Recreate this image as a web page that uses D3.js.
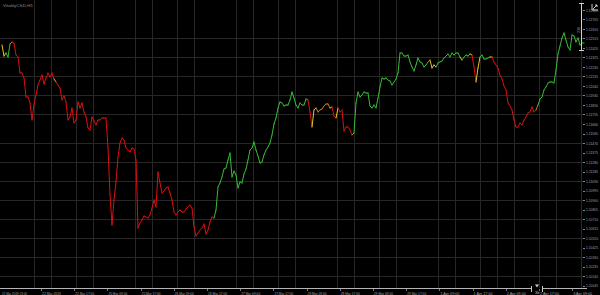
<!DOCTYPE html>
<html>
<head>
<meta charset="utf-8">
<script src="https://cdn.jsdelivr.net/npm/d3@7"></script>
<style>
  html, body { margin: 0; padding: 0; background: #000; overflow: hidden; }
</style>
</head>
<body>
<div id="chart"></div>
<script>
// close price per bar
const closePrices = [
  1.1245, 1.1234, 1.1237, 1.1233, 1.1246, 1.1248, 1.1247, 1.1235, 1.1233, 1.1217,
  1.1217, 1.1212, 1.1193, 1.1193, 1.1187, 1.1170, 1.1186, 1.1195, 1.1205, 1.1210,
  1.1215, 1.1206, 1.1212, 1.1217, 1.1213, 1.1217, 1.1211, 1.1208, 1.1205, 1.1202,
  1.1190, 1.1194, 1.1188, 1.1170, 1.1173, 1.1182, 1.1167, 1.1170, 1.1188, 1.1182,
  1.1187, 1.1178, 1.1173, 1.1162, 1.1160, 1.1173, 1.1169, 1.1165, 1.1170, 1.1170,
  1.1172, 1.1172, 1.1172, 1.1143, 1.1095, 1.1065, 1.1090, 1.1108, 1.1133, 1.1147,
  1.1152, 1.1150, 1.1142, 1.1140, 1.1138, 1.1142, 1.1141, 1.1130, 1.1062, 1.1067,
  1.1070, 1.1074, 1.1073, 1.1072,
  1.1075, 1.1082, 1.1090, 1.1083, 1.1118, 1.1107, 1.1097, 1.1099, 1.1102, 1.1103,
  1.1097, 1.1090, 1.1078, 1.1075, 1.1078, 1.1080, 1.1078, 1.1078, 1.1081, 1.1083,
  1.1085, 1.1082, 1.1063, 1.1054, 1.1057, 1.1060, 1.1062, 1.1066, 1.1056, 1.1060,
  1.1068, 1.1073, 1.1072, 1.1080, 1.1103, 1.1107, 1.1113, 1.1121, 1.1122, 1.1130,
  1.1137, 1.1113, 1.1119, 1.1115, 1.1102, 1.1108, 1.1107, 1.1116, 1.1121, 1.1130,
  1.1140, 1.1142, 1.1148, 1.1140, 1.1134, 1.1127, 1.1128, 1.1135, 1.1140, 1.1143,
  1.1147, 1.1155, 1.1166, 1.1172, 1.1182, 1.1188, 1.1187, 1.1184, 1.1185, 1.1185,
  1.1190, 1.1198, 1.1192, 1.1185, 1.1182,
  1.1187, 1.1185, 1.1185, 1.1191, 1.1190, 1.1178, 1.1163, 1.1180, 1.1182, 1.1178,
  1.1180, 1.1181, 1.1184, 1.1186, 1.1186, 1.1182, 1.1183, 1.1174, 1.1172, 1.1182,
  1.1178, 1.1180, 1.1159, 1.1163, 1.1163, 1.1160, 1.1155, 1.1157, 1.1187, 1.1198,
  1.1193, 1.1195, 1.1198, 1.1197, 1.1197, 1.1184, 1.1182, 1.1185, 1.1182, 1.1192,
  1.1203, 1.1212, 1.1211, 1.1212, 1.1210, 1.1209, 1.1205, 1.1208, 1.1211, 1.1217,
  1.1237, 1.1237, 1.1234, 1.1234, 1.1235, 1.1228, 1.1223, 1.1219, 1.1225, 1.1232,
  1.1228, 1.1227, 1.1223, 1.1225, 1.1228, 1.1230, 1.1222, 1.1225, 1.1223, 1.1227,
  1.1228, 1.1229, 1.1232, 1.1234, 1.1236,
  1.1233, 1.1237, 1.1235, 1.1237, 1.1237, 1.1233, 1.1230, 1.1233, 1.1235, 1.1234,
  1.1236, 1.1235, 1.1223, 1.1208, 1.1222, 1.1233, 1.1235, 1.1231, 1.1231, 1.1232,
  1.1233, 1.1233, 1.1228, 1.1225, 1.1222, 1.1215, 1.1211, 1.1204, 1.1200, 1.1187,
  1.1184, 1.1180, 1.1170, 1.1163, 1.1163, 1.1167, 1.1165, 1.1170, 1.1173, 1.1177,
  1.1178, 1.1183, 1.1178, 1.1180, 1.1185, 1.1191, 1.1193, 1.1200, 1.1203, 1.1207,
  1.1208, 1.1208, 1.1207, 1.1220, 1.1236, 1.1244, 1.1252, 1.1257, 1.1250, 1.1243,
  1.1240, 1.1255, 1.1254, 1.1248, 1.1252, 1.1245, 1.1247, 1.1247
];

// trend state runs: g = up, r = down, y = flat, o = turning
const trendRuns = [
  ["g", 1], ["y", 2], ["g", 3], ["r", 21], ["y", 1], ["r", 46],
  ["r", 33], ["g", 42],
  ["g", 5], ["r", 2], ["y", 2], ["o", 7], ["y", 1], ["r", 2], ["y", 1], ["r", 7], ["o", 1], ["g", 38], ["y", 3], ["g", 6],
  ["g", 6], ["y", 1], ["g", 4], ["y", 1], ["r", 2], ["y", 2], ["g", 5], ["y", 1], ["r", 22], ["o", 1], ["g", 23]
];

const priceLabels = [
  "1.12800", "1.12705", "1.12610", "1.12515", "1.12420", "1.12325", "1.12230", "1.12135", "1.12040", "1.11945",
  "1.11850", "1.11755", "1.11660", "1.11565", "1.11470", "1.11375", "1.11280", "1.11185", "1.11090", "1.10995",
  "1.10900", "1.10805", "1.10710", "1.10615", "1.10520", "1.10425", "1.10330", "1.10235", "1.10140", "1.10045"
];
// which price labels carry a visible grid line
const priceGridIdx = [3, 5, 7, 9, 11, 14, 16, 18, 20, 22, 24, 26, 28];

const timeLabels = [
  "21 Mar 2019 13:00", "22 Mar 2019", "22 Mar 17:00", "25 Mar 09:00", "25 Mar 17:00", "26 Mar 09:00",
  "26 Mar 17:00", "27 Mar 09:00", "27 Mar 17:00", "28 Mar 09:00", "28 Mar 17:00", "29 Mar 09:00",
  "29 Mar 17:00", "1 Apr 09:00", "1 Apr 17:00", "2 Apr 09:00", "2 Apr 17:00", "3 Apr 09:00"
];

const symbolTitle = "VitalityCSD,H1";

const trendColor = { g: "#36bd36", r: "#dc1010", y: "#e6c81c", o: "#de7a1a" };

const W = 600, H = 295;
const plotRight = 583, plotBottom = 288;

const svg = d3.select("#chart")
  .append("svg")
  .attr("width", W)
  .attr("height", H)
  .style("display", "block")
  .style("background", "#000");

const x = d3.scaleLinear().domain([0, closePrices.length - 1]).range([2, 584]);
const y = d3.scaleLinear().domain([1.1000, 1.1290]).range([290, 0]);

// vertical grid on an 8.42px cell raster, only the visible cells
const cell = d3.scaleLinear().domain([0, 1]).range([0, 8.42]);
const gridCols = d3.range(0, 70).filter(k => [4, 6, 9, 11].includes(k % 12) || k === 61);

const crisp = v => Math.round(v) + 0.5;

svg.append("g")
  .selectAll("line")
  .data(gridCols)
  .join("line")
  .attr("x1", k => crisp(cell(k)))
  .attr("x2", k => crisp(cell(k)))
  .attr("y1", 0)
  .attr("y2", plotBottom)
  .attr("stroke", "#272727")
  .attr("stroke-width", 1);

svg.append("g")
  .selectAll("line")
  .data(priceGridIdx)
  .join("line")
  .attr("x1", 0)
  .attr("x2", plotRight)
  .attr("y1", i => crisp(y(+priceLabels[i])))
  .attr("y2", i => crisp(y(+priceLabels[i])))
  .attr("stroke", "#272727")
  .attr("stroke-width", 1);

// price line, coloured by trend state
const trend = trendRuns.flatMap(([s, n]) => Array(n).fill(s));

svg.append("g")
  .selectAll("line")
  .data(d3.range(1, closePrices.length))
  .join("line")
  .attr("x1", i => x(i - 1))
  .attr("y1", i => y(closePrices[i - 1]))
  .attr("x2", i => x(i))
  .attr("y2", i => y(closePrices[i]))
  .attr("stroke", i => trendColor[trend[i]] || trendColor.r)
  .attr("stroke-width", 1)
  .attr("stroke-linecap", "round");

// price axis labels
const pa = svg.append("g");
pa.selectAll("line")
  .data(priceLabels)
  .join("line")
  .attr("x1", 583)
  .attr("x2", 585)
  .attr("y1", d => crisp(y(+d)))
  .attr("y2", d => crisp(y(+d)))
  .attr("stroke", "#888");
pa.selectAll("text")
  .data(priceLabels)
  .join("text")
  .attr("x", 586)
  .attr("y", d => y(+d) + 1.5)
  .attr("font-family", "Liberation Sans, Arial, sans-serif")
  .attr("font-size", 4)
  .attr("textLength", 12)
  .attr("lengthAdjust", "spacingAndGlyphs")
  .attr("fill", "#a0a0a0")
  .text(d => d);

// time axis
const tx = d3.scaleLinear().domain([0, 1]).range([42, 75.2]);
const timePos = timeLabels.map((d, i) => i === 0 ? 2 : tx(i - 1));

svg.append("line")
  .attr("x1", 0).attr("x2", 531)
  .attr("y1", plotBottom + 0.5).attr("y2", plotBottom + 0.5)
  .attr("stroke", "#b4b4b4");
svg.append("line")
  .attr("x1", 542).attr("x2", 587)
  .attr("y1", plotBottom + 0.5).attr("y2", plotBottom + 0.5)
  .attr("stroke", "#b4b4b4");

const ta = svg.append("g");
ta.selectAll("line")
  .data(timePos.slice(1))
  .join("line")
  .attr("x1", d => crisp(d - 1))
  .attr("x2", d => crisp(d - 1))
  .attr("y1", plotBottom + 1)
  .attr("y2", plotBottom + 3)
  .attr("stroke", "#777");
ta.selectAll("text")
  .data(timeLabels)
  .join("text")
  .attr("x", (d, i) => timePos[i])
  .attr("y", 294.5)
  .attr("font-family", "Liberation Sans, Arial, sans-serif")
  .attr("font-size", 4)
  .attr("textLength", (d, i) => i === 0 ? 25 : 19)
  .attr("lengthAdjust", "spacingAndGlyphs")
  .attr("fill", "#a0a0a0")
  .text(d => d);

// chart shift marker
svg.append("line").attr("x1", 531.5).attr("x2", 531.5).attr("y1", 286).attr("y2", 292).attr("stroke", "#ccc");
svg.append("line").attr("x1", 542.5).attr("x2", 542.5).attr("y1", 286).attr("y2", 292).attr("stroke", "#ccc");
svg.append("path").attr("d", "M535,284.5 L539,284.5 L537,287.5 Z").attr("fill", "#ccc");
svg.append("text")
  .attr("x", 535).attr("y", 293.5)
  .attr("font-family", "Liberation Sans, Arial, sans-serif")
  .attr("font-size", 4).attr("fill", "#bbb")
  .text("3b");

// title
svg.append("text")
  .attr("x", 3)
  .attr("y", 7)
  .attr("font-family", "Liberation Sans, Arial, sans-serif")
  .attr("font-size", 4.2)
  .attr("textLength", 30)
  .attr("lengthAdjust", "spacingAndGlyphs")
  .attr("fill", "#8c8c8c")
  .text(symbolTitle);

// price range ruler at top right
svg.append("line").attr("x1", 581.5).attr("x2", 581.5).attr("y1", 3).attr("y2", 50).attr("stroke", "#d0d0d0");
svg.append("line").attr("x1", 579).attr("x2", 584).attr("y1", 50.5).attr("y2", 50.5).attr("stroke", "#d0d0d0");
svg.append("line").attr("x1", 579).attr("x2", 584).attr("y1", 3.5).attr("y2", 3.5).attr("stroke", "#d0d0d0");
svg.append("text")
  .attr("transform", "translate(579.5,33) rotate(-90)")
  .attr("font-family", "Liberation Sans, Arial, sans-serif")
  .attr("font-size", 3.5)
  .attr("fill", "#aaa")
  .text("236");

// corner icon
svg.append("path")
  .attr("d", "M592,4 L592,10 L598,10 M593,9 L597,5 M595,5 L597,5 L597,7")
  .attr("fill", "none")
  .attr("stroke", "#e0e0e0")
  .attr("stroke-width", 0.9);
</script>
</body>
</html>
